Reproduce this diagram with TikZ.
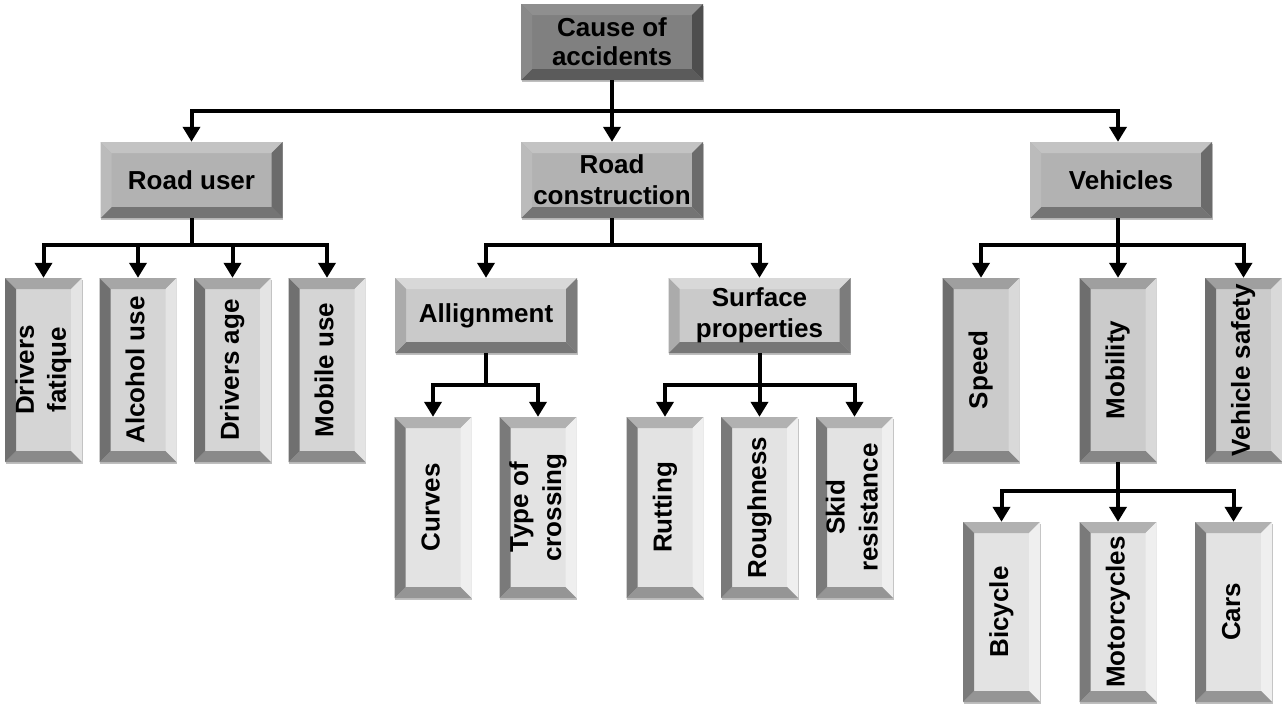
\documentclass[tikz,border=0pt]{standalone}
\usepackage{fontspec}
\setmainfont{Liberation Sans}
\usetikzlibrary{arrows.meta,shadows}
\newcommand{\vtext}[1]{\rotatebox{90}{\begin{tabular}{@{}c@{}}#1\end{tabular}}}
\def\bv{11pt}
% level 0
\definecolor{aF}{HTML}{808080}\definecolor{aT}{HTML}{8F8F8F}\definecolor{aR}{HTML}{4E4E4E}\definecolor{aB}{HTML}{5B5B5B}\definecolor{aL}{HTML}{898989}
% level 1
\definecolor{bF}{HTML}{B2B2B2}\definecolor{bT}{HTML}{C3C3C3}\definecolor{bR}{HTML}{6B6B6B}\definecolor{bB}{HTML}{747474}\definecolor{bL}{HTML}{BBBBBB}
% level 2 horizontal
\definecolor{cF}{HTML}{CACACA}\definecolor{cT}{HTML}{D8D8D8}\definecolor{cR}{HTML}{7C7C7C}\definecolor{cB}{HTML}{777777}\definecolor{cL}{HTML}{ABABAB}
% level 2 vertical (road user)
\definecolor{dF}{HTML}{D5D5D5}\definecolor{dT}{HTML}{A6A6A6}\definecolor{dR}{HTML}{E4E4E4}\definecolor{dB}{HTML}{8A8A8A}\definecolor{dL}{HTML}{707070}
% level 2 vertical (vehicles)
\definecolor{eF}{HTML}{CBCBCB}\definecolor{eT}{HTML}{9F9F9F}\definecolor{eR}{HTML}{D9D9D9}\definecolor{eB}{HTML}{868686}\definecolor{eL}{HTML}{6E6E6E}
% level 3 vertical
\definecolor{fF}{HTML}{E3E3E3}\definecolor{fT}{HTML}{B1B1B1}\definecolor{fR}{HTML}{EFEFEF}\definecolor{fB}{HTML}{959595}\definecolor{fL}{HTML}{7A7A7A}
\tikzset{
  bevel/.style n args={5}{fill=#1, path picture={
    \coordinate (bvA) at (path picture bounding box.north west);
    \coordinate (bvB) at (path picture bounding box.north east);
    \coordinate (bvC) at (path picture bounding box.south east);
    \coordinate (bvD) at (path picture bounding box.south west);
    \coordinate (bvAi) at ([shift={(\bv,-\bv)}]bvA);
    \coordinate (bvBi) at ([shift={(-\bv,-\bv)}]bvB);
    \coordinate (bvCi) at ([shift={(-\bv,\bv)}]bvC);
    \coordinate (bvDi) at ([shift={(\bv,\bv)}]bvD);
    \fill[#2] (bvA)--(bvB)--(bvBi)--(bvAi)--cycle;
    \fill[#3] (bvB)--(bvC)--(bvCi)--(bvBi)--cycle;
    \fill[#4] (bvC)--(bvD)--(bvDi)--(bvCi)--cycle;
    \fill[#5] (bvD)--(bvA)--(bvAi)--(bvDi)--cycle;
  }},
  box/.style={inner sep=0pt, text=black, align=center,
    font=\bfseries\fontsize{26}{30}\selectfont,
    drop shadow={shadow xshift=0.8pt, shadow yshift=-1.6pt, opacity=0.25, fill=black}},
  hbox/.style={box, minimum width=182pt, minimum height=76pt},
  vbox/.style={box, minimum width=77pt, minimum height=184pt, font=\bfseries\fontsize{26}{32}\selectfont},
  wbox/.style={box, minimum width=77pt, minimum height=181pt, font=\bfseries\fontsize{26}{33}\selectfont},
  lvA/.style={hbox, font=\bfseries\fontsize{26}{29}\selectfont, bevel={aF}{aT}{aR}{aB}{aL}},
  lvB/.style={hbox, font=\bfseries\fontsize{26}{31}\selectfont, bevel={bF}{bT}{bR}{bB}{bL}},
  lvC/.style={hbox, minimum height=75pt, font=\bfseries\fontsize{26}{31}\selectfont, bevel={cF}{cT}{cR}{cB}{cL}},
  lvD/.style={vbox, bevel={dF}{dT}{dR}{dB}{dL}},
  lvE/.style={vbox, bevel={eF}{eT}{eR}{eB}{eL}},
  lvF/.style={wbox, bevel={fF}{fT}{fR}{fB}{fL}},
  ln/.style={line width=4pt, draw=black},
  arr/.style={ln, -{Triangle[length=15pt,width=17pt]}}
}
\begin{document}
\begin{tikzpicture}[x=1pt,y=-1pt]
\useasboundingbox (0,0) rectangle (1282,704);
% level 0 / 1
\node[lvA] (cause) at (612,42) {Cause of\\accidents};
\node[lvB] (ru) at (191.5,180) {Road user};
\node[lvB] (rc) at (612,180) {Road\\construction};
\node[lvB] (veh) at (1121,180) {Vehicles};
% road user children
\node[lvD] (df) at (43.5,370) {\vtext{Drivers\\fatique}};
\node[lvD] (au) at (138,370) {\vtext{Alcohol use}};
\node[lvD] (da) at (232.5,370) {\vtext{Drivers age}};
\node[lvD] (mu) at (327,370) {\vtext{Mobile use}};
% road construction children
\node[lvC] (al) at (486,315.5) {Allignment};
\node[lvC] (sp) at (759.5,315.5) {Surface\\properties};
\node[lvF] (cu) at (433,507.5) {\vtext{Curves}};
\node[lvF] (tc) at (538,507.5) {\vtext{Type of\\crossing}};
\node[lvF] (rt) at (665,507.5) {\vtext{Rutting}};
\node[lvF] (rg) at (759.5,507.5) {\vtext{Roughness}};
\node[lvF] (sk) at (854.5,507.5) {\vtext{Skid\\resistance}};
% vehicles children
\node[lvE] (spd) at (981,370) {\vtext{Speed}};
\node[lvE] (mob) at (1118,370) {\vtext{Mobility}};
\node[lvE] (vs) at (1243.5,370) {\vtext{Vehicle safety}};
\node[lvF, minimum height=180pt] (bi) at (1001.5,612) {\vtext{Bicycle}};
\node[lvF, minimum height=180pt] (mc) at (1118,612) {\vtext{Motorcycles}};
\node[lvF, minimum height=180pt] (ca) at (1233.5,612) {\vtext{Cars}};
% junctions
\coordinate (j0) at (612,111);
\coordinate (j1) at (191.5,245);
\coordinate (j2) at (612,245);
\coordinate (j3) at (1118,245);
\coordinate (j4) at (486,385);
\coordinate (j5) at (759.5,385);
\coordinate (j6) at (1118,491);
% connectors
\draw[ln] (cause.south) -- (j0);
\draw[arr] (j0) -| (ru.north);
\draw[arr] (j0) -- (rc.north);
\draw[arr] (j0) -| (veh.north -| j3);
\draw[ln] (ru.south) -- (j1);
\foreach \c in {df,au,da,mu} \draw[arr] (j1) -| (\c.north);
\draw[ln] (rc.south) -- (j2);
\foreach \c in {al,sp} \draw[arr] (j2) -| (\c.north);
\draw[ln] (veh.south -| j3) -- (j3);
\foreach \c in {spd,mob,vs} \draw[arr] (j3) -| (\c.north);
\draw[ln] (al.south) -- (j4);
\foreach \c in {cu,tc} \draw[arr] (j4) -| (\c.north);
\draw[ln] (sp.south) -- (j5);
\foreach \c in {rt,rg,sk} \draw[arr] (j5) -| (\c.north);
\draw[ln] (mob.south) -- (j6);
\foreach \c in {bi,mc,ca} \draw[arr] (j6) -| (\c.north);
\end{tikzpicture}
\end{document}
